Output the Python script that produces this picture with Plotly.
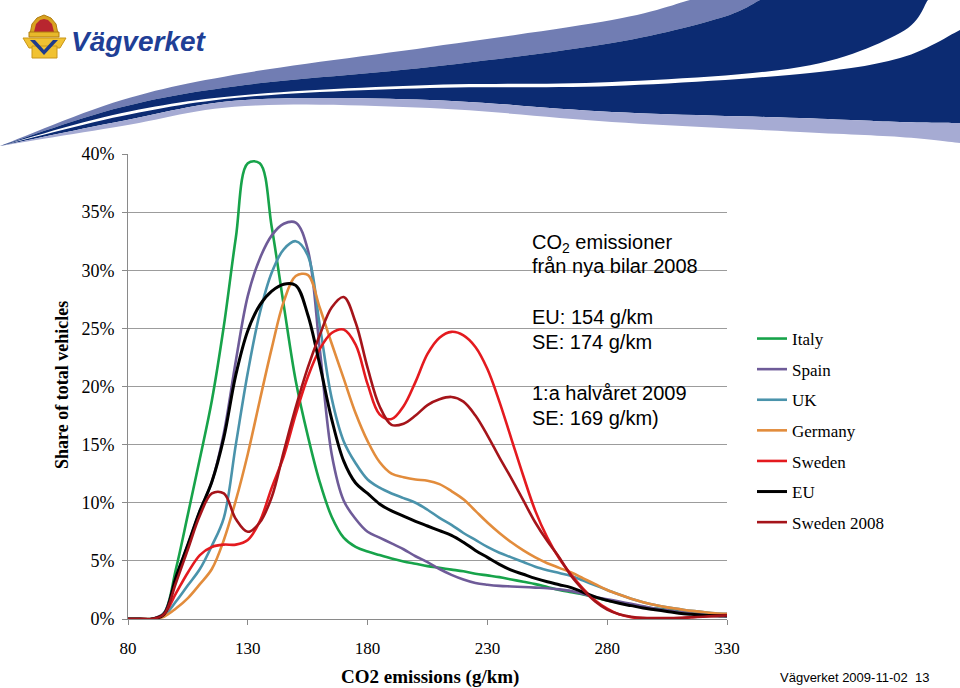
import plotly.graph_objects as go

# ---------------- data ----------------
co2_gkm = [80, 85, 90, 95, 100, 105, 110, 115, 120, 125, 130, 135, 140, 145, 150,
           155, 160, 165, 170, 175, 180, 185, 190, 195, 200, 205, 210, 215, 220,
           225, 230, 235, 240, 245, 250, 255, 260, 265, 270, 275, 280, 285, 290,
           295, 300, 305, 310, 315, 320, 325, 330]

italy = [0, 0, 0, 0.5, 4.3, 9.0, 13.8, 18.8, 25.2, 32.8, 39.2, 39.2, 33.7, 27.0, 20.5,
         15.8, 11.8, 8.8, 7.0, 6.2, 5.8, 5.5, 5.2, 4.95, 4.75, 4.55, 4.4, 4.25, 4.1,
         3.9, 3.75, 3.6, 3.4, 3.2, 3.0, 2.75, 2.5, 2.3, 2.1, 1.85, 1.6, 1.4, 1.2,
         1.05, 0.9, 0.8, 0.7, 0.6, 0.5, 0.42, 0.35]
spain = [0, 0, 0, 0.5, 3.6, 6.4, 9.3, 11.8, 16.0, 22.2, 27.8, 31.0, 33.0, 34.0, 34.1,
         31.8, 23.3, 14.2, 10.2, 8.6, 7.5, 7.0, 6.5, 6.0, 5.4, 4.9, 4.3, 3.8, 3.4,
         3.1, 2.95, 2.85, 2.8, 2.75, 2.7, 2.65, 2.55, 2.4, 2.15, 1.9, 1.7, 1.5, 1.3,
         1.1, 0.9, 0.75, 0.6, 0.5, 0.4, 0.3, 0.25]
uk = [0, 0, 0, 0.3, 1.5, 2.9, 4.3, 6.3, 8.7, 15.0, 21.2, 26.3, 29.8, 31.8, 32.5,
      31.3, 25.3, 19.0, 15.3, 13.4, 12.0, 11.3, 10.8, 10.4, 10.0, 9.4, 8.7, 8.1, 7.4,
      6.8, 6.2, 5.7, 5.3, 4.9, 4.5, 4.2, 3.95, 3.7, 3.3, 2.9, 2.5, 2.1, 1.75,
      1.45, 1.2, 1.0, 0.85, 0.7, 0.6, 0.5, 0.45]
germany = [0, 0, 0, 0.2, 0.9, 1.8, 3.0, 4.3, 6.8, 10.2, 14.2, 18.8, 23.3, 27.3, 29.5,
           29.6, 26.8, 23.7, 20.7, 17.7, 15.3, 13.5, 12.5, 12.2, 12.0, 11.9, 11.6, 11.0, 10.3,
           9.3, 8.3, 7.4, 6.6, 5.9, 5.3, 4.8, 4.4, 4.0, 3.5, 3.0, 2.5, 2.1, 1.75,
           1.45, 1.2, 1.0, 0.85, 0.7, 0.6, 0.5, 0.45]
sweden = [0, 0, 0, 0.4, 2.2, 4.0, 5.5, 6.2, 6.4, 6.4, 6.8, 8.4, 11.3, 14.0, 17.6,
          20.8, 23.2, 24.6, 24.9, 23.6, 20.2, 17.6, 17.2, 18.3, 20.4, 22.8, 24.2, 24.7, 24.4,
          23.4, 21.5, 18.7, 15.5, 12.3, 9.3, 7.0, 5.2, 3.8, 2.6, 1.6, 0.9, 0.4, 0.15,
          0.05, 0.02, 0.02, 0.05, 0.15, 0.25, 0.3, 0.35]
eu = [0, 0, 0, 0.4, 3.6, 6.4, 9.3, 11.8, 15.6, 21.0, 24.8, 27.0, 28.2, 28.8, 28.7,
      26.2, 21.9, 17.2, 13.6, 11.7, 10.8, 9.9, 9.3, 8.85, 8.4, 8.0, 7.6, 7.2, 6.6,
      5.9, 5.3, 4.7, 4.2, 3.85, 3.5, 3.2, 2.95, 2.7, 2.3, 1.9, 1.6, 1.35, 1.15,
      0.95, 0.8, 0.65, 0.5, 0.4, 0.32, 0.27, 0.25]
sweden_2008 = [0, 0, 0, 0.4, 3.1, 6.0, 8.9, 10.8, 10.8, 8.6, 7.5, 8.3, 10.5, 14.4, 18.2,
               21.6, 24.4, 26.8, 27.7, 25.5, 21.6, 18.3, 16.7, 16.8, 17.5, 18.4, 18.9, 19.1, 18.7,
               17.5, 15.8, 13.9, 12.1, 10.2, 8.3, 6.7, 5.3, 3.7, 2.5, 1.5, 0.8, 0.4, 0.2,
               0.1, 0.08, 0.08, 0.1, 0.15, 0.2, 0.25, 0.3]

series_names = ["Italy", "Spain", "UK", "Germany", "Sweden", "EU", "Sweden 2008"]
series_values = [italy, spain, uk, germany, sweden, eu, sweden_2008]
series_colors = ["#17a34a", "#6e5b98", "#4a93ab", "#e28c3c", "#e41a1f", "#000000", "#a5141a"]
series_widths = [2.6, 2.6, 2.6, 2.6, 2.6, 3.0, 2.6]

x_ticks = [80, 130, 180, 230, 280, 330]
x_tick_labels = ["80", "130", "180", "230", "280", "330"]
y_ticks = [0, 5, 10, 15, 20, 25, 30, 35, 40]
y_tick_labels = ["0%", "5%", "10%", "15%", "20%", "25%", "30%", "35%", "40%"]

note_lines = ["CO<sub>2</sub> emissioner", "från nya bilar 2008",
              "EU: 154 g/km", "SE: 174 g/km",
              "1:a halvåret 2009", "SE: 169 g/km)"]
note_line_y = [243, 266, 317, 342, 393, 418]   # pixel rows of the text lines

# ---------------- layout helpers (pixel -> paper) ----------------
PL, PR, PT, PB = 128, 727, 154, 619


def px(X):
    return (X - PL) / (PR - PL)


def py(Y):
    return (PB - Y) / (PB - PT)


def catmull(points, n=14):
    pts = [points[0]] + list(points) + [points[-1]]
    out = []
    for i in range(1, len(pts) - 2):
        p0, p1, p2, p3 = pts[i - 1], pts[i], pts[i + 1], pts[i + 2]
        for k in range(n):
            t = k / n
            t2, t3 = t * t, t * t * t
            xx = 0.5 * ((2 * p1[0]) + (-p0[0] + p2[0]) * t + (2 * p0[0] - 5 * p1[0] + 4 * p2[0] - p3[0]) * t2
                        + (-p0[0] + 3 * p1[0] - 3 * p2[0] + p3[0]) * t3)
            yy = 0.5 * ((2 * p1[1]) + (-p0[1] + p2[1]) * t + (2 * p0[1] - 5 * p1[1] + 4 * p2[1] - p3[1]) * t2
                        + (-p0[1] + 3 * p1[1] - 3 * p2[1] + p3[1]) * t3)
            out.append((xx, yy))
    out.append(points[-1])
    return out


def band_path(upper, lower):
    pts = catmull(upper) + catmull(lower)[::-1]
    return "M " + " L ".join(f"{px(a):.5f},{py(b):.5f}" for a, b in pts) + " Z"


def poly_path(pts):
    return "M " + " L ".join(f"{px(a):.5f},{py(b):.5f}" for a, b in pts) + " Z"


# banner swoosh edges (pixels)
E1 = [(0, 146), (122, 100), (245, 73), (430, 47), (612, 20), (690, 0)]
E2 = [(0, 146), (122, 107), (245, 85), (430, 67), (612, 43), (720, 18), (760, 0)]
E3 = [(0, 146), (122, 113), (245, 95), (430, 85), (612, 82), (800, 67), (900, 33), (928, 0)]
E4 = [(0, 146), (122, 116), (245, 97), (430, 88), (612, 86), (800, 74), (900, 58), (960, 30)]
E5 = [(0, 146), (122, 121), (245, 100), (430, 100), (612, 112), (800, 118), (900, 122), (960, 123)]
E6 = [(0, 146), (122, 126), (245, 106), (430, 108), (612, 122), (800, 132), (900, 137), (960, 143)]

fig = go.Figure()
for name, vals, color, w in zip(series_names, series_values, series_colors, series_widths):
    fig.add_trace(go.Scatter(
        x=co2_gkm, y=vals, mode="lines", name=name, legendgroup=name,
        line=dict(color=color, width=w, shape="spline", smoothing=1.0),
        hoverinfo="skip"))

shapes = [
    # white box behind the note (hides gridlines)
    dict(type="rect", xref="paper", yref="paper", x0=px(519), x1=1.0, y0=py(434), y1=py(226),
         fillcolor="white", line=dict(width=0), layer="between"),
    # banner swoosh
    dict(type="path", xref="paper", yref="paper", path=band_path(E1, E2),
         fillcolor="#717db3", line=dict(width=0), layer="above"),
    dict(type="path", xref="paper", yref="paper", path=band_path(E2, E3),
         fillcolor="#0c2b72", line=dict(width=0), layer="above"),
    dict(type="path", xref="paper", yref="paper", path=band_path(E4, E5),
         fillcolor="#0c2b72", line=dict(width=0), layer="above"),
    dict(type="path", xref="paper", yref="paper", path=band_path(E5, E6),
         fillcolor="#a6abd3", line=dict(width=0), layer="above"),
    # logo emblem
    dict(type="path", xref="paper", yref="paper",
         path=poly_path([(30, 34), (32, 24), (37, 18), (44, 15), (51, 18), (56, 24), (58, 34)]),
         fillcolor="#d9a21f", line=dict(color="#b07d10", width=1), layer="above"),
    dict(type="path", xref="paper", yref="paper",
         path=poly_path([(34, 32), (36, 24), (40, 20), (44, 19), (48, 20), (52, 24), (54, 32)]),
         fillcolor="#b8262f", line=dict(width=0), layer="above"),
    dict(type="rect", xref="paper", yref="paper", x0=px(29), x1=px(59), y0=py(37), y1=py(32),
         fillcolor="#e8b82a", line=dict(color="#b07d10", width=1), layer="above"),
    dict(type="path", xref="paper", yref="paper",
         path=poly_path([(23, 38), (66, 38), (60, 48), (29, 48)]),
         fillcolor="#f1c232", line=dict(color="#c9961a", width=1), layer="above"),
    dict(type="rect", xref="paper", yref="paper", x0=px(32), x1=px(57), y0=py(58), y1=py(46),
         fillcolor="#f1c232", line=dict(color="#c9961a", width=1), layer="above"),
    dict(type="path", xref="paper", yref="paper",
         path=poly_path([(30, 40), (44, 55), (58, 40), (53, 40), (44, 50), (35, 40)]),
         fillcolor="#1f3b8c", line=dict(width=0), layer="above"),
]

annotations = []
for txt, yy in zip(note_lines, note_line_y):
    annotations.append(dict(text=txt, xref="paper", yref="paper", x=px(530), y=py(yy),
                            xanchor="left", yanchor="middle", showarrow=False,
                            font=dict(family="Liberation Sans", size=20, color="black")))
annotations += [
    dict(text="<b>Share of total vehicles</b>", xref="paper", yref="paper", x=px(62), y=py(385),
         xanchor="center", yanchor="middle", textangle=-90, showarrow=False,
         font=dict(family="Liberation Serif", size=18, color="black")),
    dict(text="<b>CO2 emissions (g/km)</b>", xref="paper", yref="paper", x=px(430), y=py(677),
         xanchor="center", yanchor="middle", showarrow=False,
         font=dict(family="Liberation Serif", size=19, color="black")),
    dict(text="Vägverket 2009-11-02  13", xref="paper", yref="paper", x=px(931), y=py(677),
         xanchor="right", yanchor="middle", showarrow=False,
         font=dict(family="Liberation Sans Narrow, Liberation Sans", size=13, color="black")),
    dict(text="<b><i>Vägverket</i></b>", xref="paper", yref="paper", x=px(69), y=py(41),
         xanchor="left", yanchor="middle", showarrow=False,
         font=dict(family="Liberation Sans", size=28, color="#1f3f96")),
]

fig.update_layout(
    width=960, height=688,
    margin=dict(l=PL, r=960 - PR, t=PT, b=688 - PB, autoexpand=False),
    paper_bgcolor="white", plot_bgcolor="white",
    xaxis=dict(range=[80, 330], tickmode="array", tickvals=x_ticks, ticktext=x_tick_labels,
               showgrid=False, zeroline=False,
               showline=True, linecolor="#8a8a8a", linewidth=1,
               ticks="outside", ticklen=5, tickcolor="#8a8a8a",
               tickfont=dict(family="Liberation Serif", size=17, color="black"),
               ticklabelstandoff=9),
    yaxis=dict(range=[0, 40], tickmode="array", tickvals=y_ticks, ticktext=y_tick_labels,
               showgrid=True, gridcolor="#9c9c9c", gridwidth=1, zeroline=False,
               showline=True, linecolor="#8a8a8a", linewidth=1,
               ticks="outside", ticklen=5, tickcolor="#8a8a8a",
               tickfont=dict(family="Liberation Serif", size=18, color="black"),
               ticklabelstandoff=4),
    legend=dict(x=px(752), y=py(321), xanchor="left", yanchor="top",
                font=dict(family="Liberation Serif", size=17, color="black"),
                tracegroupgap=5.5, bgcolor="rgba(0,0,0,0)", borderwidth=0),
    showlegend=True,
    shapes=shapes,
    annotations=annotations,
)

fig.write_html("out.html", config={"displayModeBar": False},
               post_script="document.body.style.margin='0px';document.body.style.overflow='hidden';")
